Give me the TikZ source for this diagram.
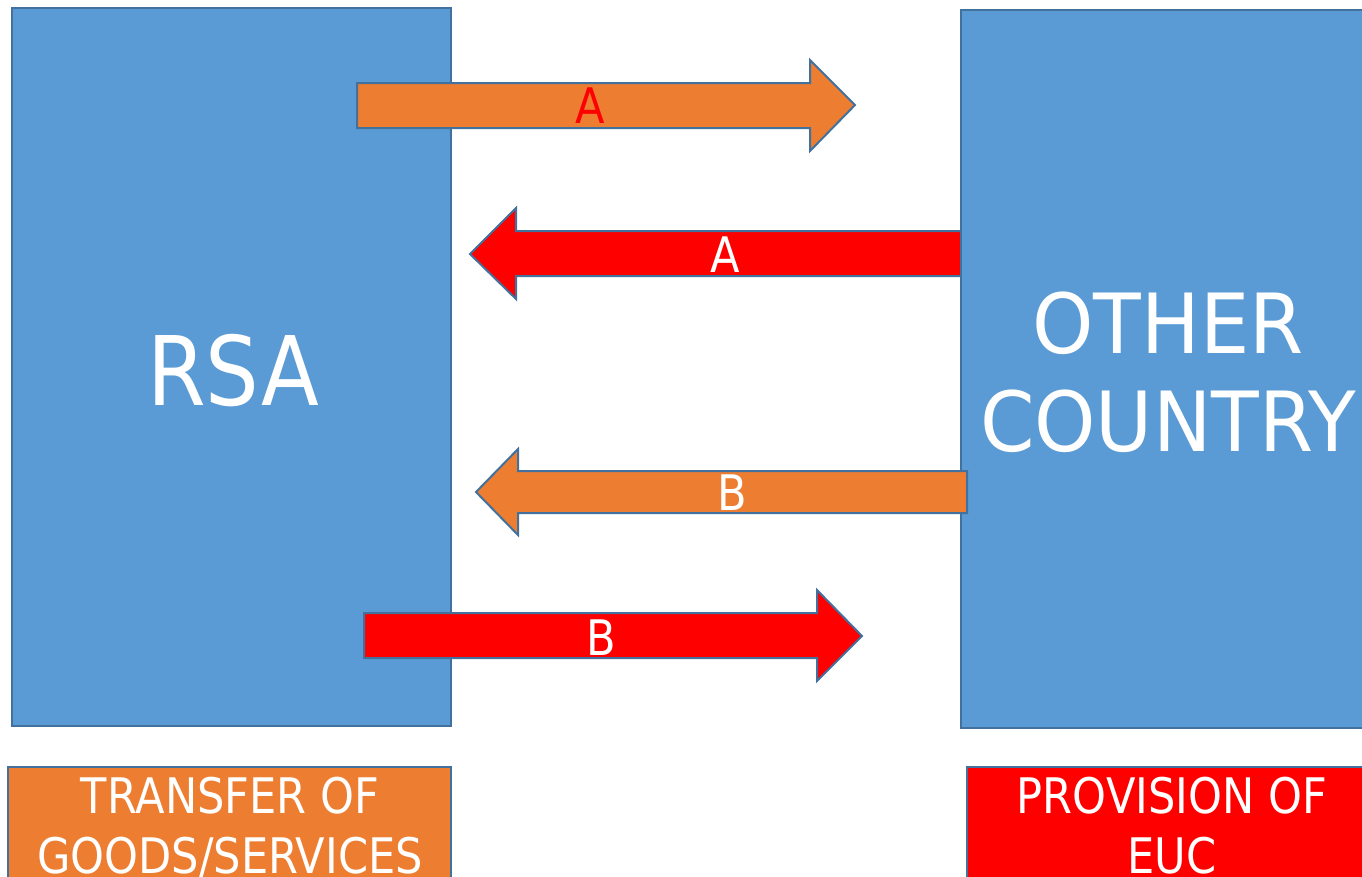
\documentclass[tikz,border=0pt]{standalone}
\usepackage{fontspec}
\setmainfont{DejaVu Sans}[FakeStretch=0.88]
\newfontfamily\widerfont{DejaVu Sans}[FakeStretch=0.94]
\definecolor{panelblue}{HTML}{5B9BD5}
\definecolor{flowor}{HTML}{ED7D31}
\definecolor{flowred}{HTML}{FF0000}
\definecolor{edgeblue}{HTML}{41719C}
\begin{document}
\begin{tikzpicture}[x=1pt,y=-1pt,
  panel/.style={draw=edgeblue, line width=2pt, fill=panelblue},
  blockarrow/.style={draw=edgeblue, line width=2pt, line join=miter},
  txt/.style={inner sep=0pt, anchor=base, text=white},
  big/.style={txt, font=\fontsize{96}{115}\selectfont},
  mid/.style={txt, font=\widerfont\fontsize{83}{98}\selectfont},
  small/.style={txt, font=\fontsize{49}{60}\selectfont}]
\useasboundingbox (0,0) rectangle (1362,876);
\clip (0,0) rectangle (1362,876);

% country panels and the arrow that ends at the right panel
\draw[panel] (12,8) rectangle (451,726);
\draw[blockarrow, fill=flowred]
  (961,231) -- (516,231) -- (516,208) -- (470,254) -- (516,299) -- (516,276) -- (961,276) -- cycle;
\draw[panel] (961,10) rectangle (1380,728);

% flow arrows
\draw[blockarrow, fill=flowor]
  (357,83) -- (810,83) -- (810,60) -- (855,105) -- (810,151) -- (810,128) -- (357,128) -- cycle;
\draw[blockarrow, fill=flowor]
  (967,471) -- (518,471) -- (518,449) -- (476,492) -- (518,535) -- (518,513) -- (967,513) -- cycle;
\draw[blockarrow, fill=flowred]
  (364,613) -- (817,613) -- (817,590) -- (862,636) -- (817,681) -- (817,658) -- (364,658) -- cycle;

% arrow labels
\node[small, text=flowred] (la1) at (590,123) {A};
\node[small] (la2) at (725,272) {A};
\node[small] (lb1) at (732,510) {B};
\node[small] (lb2) at (601,655) {B};

% panel titles
\node[big] (rsa) at (233,405) {RSA};
\node[mid] (oc1) at (1168,353) {OTHER};
\node[mid] (oc2) at (1168,451) {COUNTRY};

% legend boxes
\draw[panel, fill=flowor] (8,767) rectangle (451,900);
\draw[panel, fill=flowred] (967,767) rectangle (1380,900);
\node[small] (tg1) at (230,813) {TRANSFER OF};
\node[small] (tg2) at (230,873) {GOODS/SERVICES};
\node[small] (pe1) at (1172,813) {PROVISION OF};
\node[small] (pe2) at (1172,873) {EUC};
\end{tikzpicture}
\end{document}
